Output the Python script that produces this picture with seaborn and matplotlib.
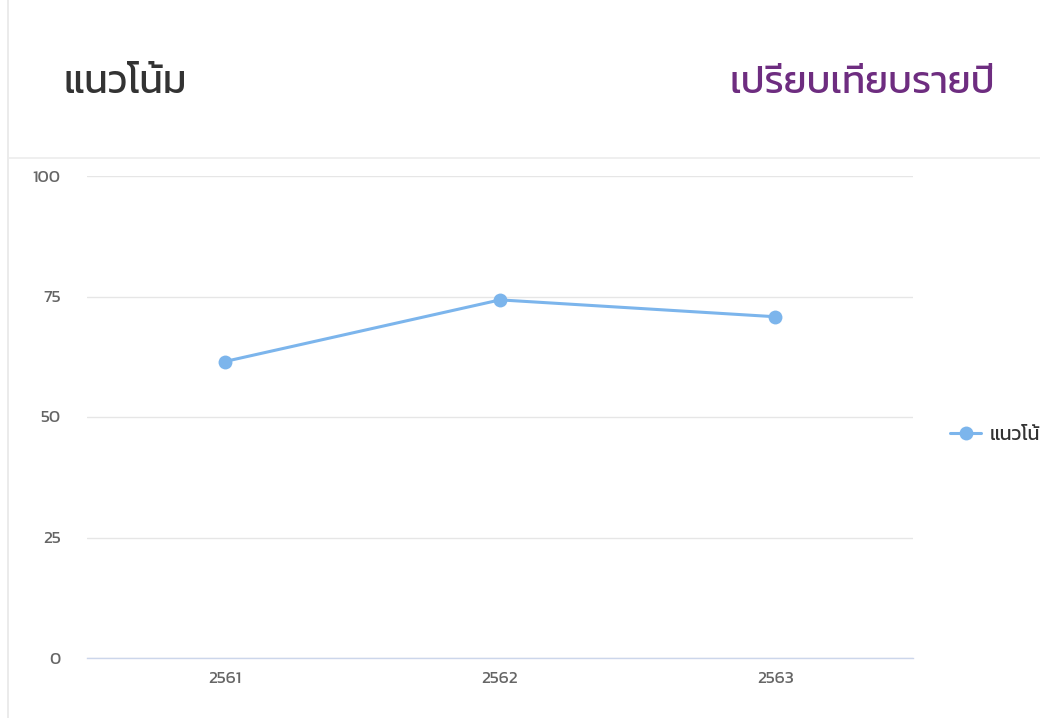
import matplotlib
matplotlib.use('Agg')
import matplotlib.pyplot as plt
import seaborn as sns
import pandas as pd
from matplotlib.lines import Line2D

# ข้อมูล
years = ['2561', '2562', '2563']
scores = [61.5, 74.3, 70.8]
series_name = 'แนวโน้ม'
title_left = 'แนวโน้ม'
title_right = 'เปรียบเทียบรายปี'
y_ticks = [0, 25, 50, 75, 100]

df = pd.DataFrame({'year': years, 'score': scores, 'series': series_name})

sns.set_style('white')
plt.rcParams['font.family'] = ['Kanit', 'DejaVu Sans']

fig = plt.figure(figsize=(10.4, 7.18), dpi=100)
ax = fig.add_axes([87 / 1040, 60 / 718, 826 / 1040, 482 / 718])

sns.lineplot(data=df, x='year', y='score', hue='series', palette=['#7cb5ec'],
             marker='o', markersize=10, markeredgewidth=0, linewidth=2.2, ax=ax)

ax.set_xlim(-0.5, 2.5)
ax.set_ylim(0, 100)
ax.set_yticks(y_ticks)
ax.set_xlabel('')
ax.set_ylabel('')
ax.grid(axis='y', color='#e6e6e6', linewidth=1)
ax.grid(axis='x', visible=False)
for s in ['top', 'right', 'left']:
    ax.spines[s].set_visible(False)
ax.spines['bottom'].set_color('#ccd6eb')
ax.spines['bottom'].set_linewidth(1)
ax.tick_params(axis='both', length=0, labelcolor='#666666', labelsize=12.5)
ax.tick_params(axis='y', pad=19)
ax.tick_params(axis='x', pad=10)

leg = ax.legend(loc='center left', frameon=False, borderaxespad=0, borderpad=0,
                handlelength=1.6, handletextpad=0.45, fontsize=14)
leg.set_bbox_to_anchor((1.045, 0.463), transform=ax.transAxes)
for t in leg.get_texts():
    t.set_color('#333333')

# หัวข้อ
fig.text(63 / 1040, 1 - 84 / 718, title_left, fontsize=28, color='#333333', va='center', ha='left')
fig.text(995 / 1040, 1 - 84 / 718, title_right, fontsize=27.5, color='#6e2d80', va='center', ha='right')

# เส้นขอบการ์ด
fig.add_artist(Line2D([8 / 1040, 8 / 1040], [0, 1], color='#e8e8e8', linewidth=1.2))
fig.add_artist(Line2D([8 / 1040, 1], [1 - 158 / 718, 1 - 158 / 718], color='#ececec', linewidth=1.2))

fig.savefig('out.png', dpi=100)
